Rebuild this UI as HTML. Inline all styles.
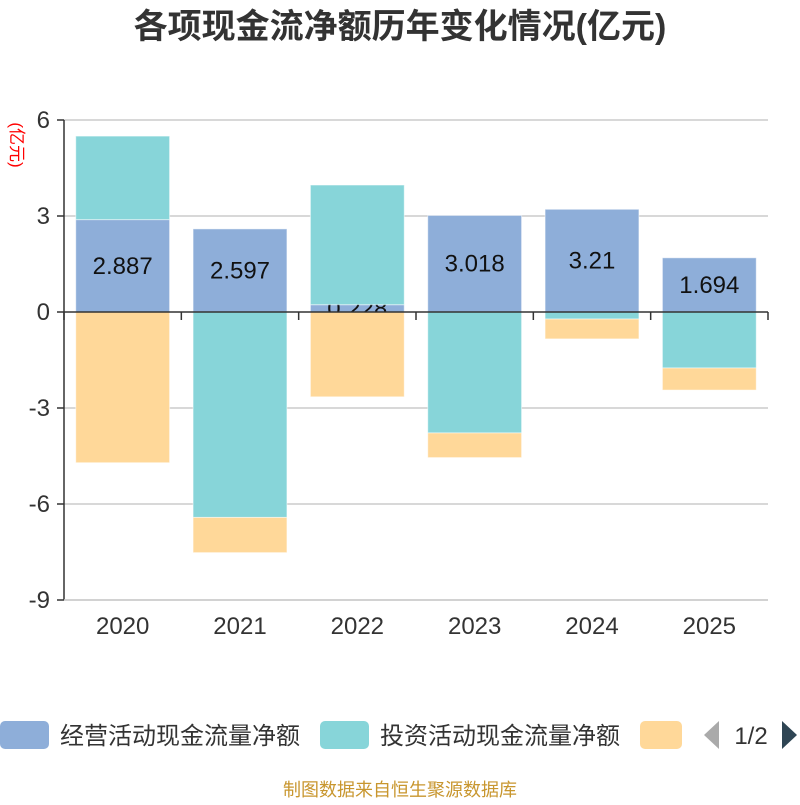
<!DOCTYPE html>
<html><head><meta charset="utf-8"><style>
body{margin:0;background:#fff;}
svg text{font-family:"Liberation Sans","Noto Sans CJK SC",sans-serif;}
</style></head><body>
<svg id="c" width="800" height="800">
<text x="400" y="38" text-anchor="middle" font-size="34" font-weight="bold" fill="#333">各项现金流净额历年变化情况(亿元)</text>
<text transform="translate(11,145) rotate(90)" text-anchor="middle" font-size="17" fill="#f00">(亿元)</text>
<g id="grid"></g><g id="bars"></g>
<g>
<rect x="0" y="721" width="49" height="28" rx="5" fill="#8eaed9"/>
<text x="60" y="744" font-size="24" fill="#333">经营活动现金流量净额</text>
<rect x="320" y="721" width="49" height="28" rx="5" fill="#87d5d9"/>
<text x="380" y="744" font-size="24" fill="#333">投资活动现金流量净额</text>
<rect x="640" y="721" width="42" height="28" rx="5" fill="#ffd899"/>
<polygon points="719,721 719,749 704,735" fill="#aaa"/>
<text x="751" y="744" text-anchor="middle" font-size="24" fill="#333">1/2</text>
<polygon points="782,721 782,749 797,735" fill="#2f4554"/>
</g>
<text x="400" y="796" text-anchor="middle" font-size="18" fill="#c8962e">制图数据来自恒生聚源数据库</text>
</svg>
<script>
const categories=["2020","2021","2022","2023","2024","2025"];
const operating=[2.887,2.597,0.228,3.018,3.21,1.694];
const investing=[2.61,-6.42,3.74,-3.78,-0.22,-1.75];
const financing=[-4.71,-1.1,-2.65,-0.77,-0.62,-0.69];
const yTicks=[6,3,0,-3,-6,-9];
const NS="http://www.w3.org/2000/svg";
const X0=64,X1=768,Y0=120,Y1=600,ymax=6,ymin=-9;
const y=v=>Y0+(ymax-v)/(ymax-ymin)*(Y1-Y0);
const bw=(X1-X0)/categories.length;
const grid=document.getElementById('grid'),bars=document.getElementById('bars');
function mk(tag,attrs,parent){const e=document.createElementNS(NS,tag);for(const k in attrs)e.setAttribute(k,attrs[k]);parent.appendChild(e);return e;}
yTicks.forEach(t=>{
  if(t!==0){const l=mk('line',{x1:X0,x2:X1,y1:y(t),y2:y(t),stroke:'#ccc','stroke-width':1.5},grid);
  
  }
  const tk=mk('line',{x1:X0-7,x2:X0,y1:y(t),y2:y(t),stroke:'#333','stroke-width':1.5},grid);
  
  
  const tx=mk('text',{x:X0-14,y:y(t)+8,'text-anchor':'end','font-size':24,fill:'#333'},grid);
  tx.textContent=t;
  
  
});
const ax=mk('line',{x1:X0,x2:X0,y1:Y0,y2:Y1,stroke:'#333','stroke-width':1.5},grid);


const bot=mk('line',{x1:X0,x2:X1,y1:Y1,y2:Y1,stroke:'#ccc','stroke-width':1.5},grid);


categories.forEach((c,i)=>{
  const tx=mk('text',{x:X0+bw*(i+0.5),y:634,'text-anchor':'middle','font-size':24,fill:'#333'},grid);
  tx.textContent=c;
  
  
});
function bar(x,a,b,col,name){
  const r=mk('rect',{x:x,y:Math.min(y(a),y(b)),width:bw*0.8,height:Math.abs(y(a)-y(b)),fill:col,stroke:'#fff','stroke-opacity':0.5},bars);
  
  
}
categories.forEach((c,i)=>{
  const x=X0+bw*i+bw*0.1;
  let pos=0,neg=0;
  const stack=(v)=>{let a,b;if(v>=0){a=pos;b=pos+v;pos=b;}else{a=neg;b=neg+v;neg=b;}return [a,b];};
  const o=stack(operating[i]);
  bar(x,o[0],o[1],'#8eaed9','bar-operating-'+c);
  const lb=mk('text',{x:x+bw*0.4,y:(y(o[0])+y(o[1]))/2+8,'text-anchor':'middle','font-size':24,fill:'#111'},bars);
  lb.textContent=operating[i];
  
  
  const v=stack(investing[i]);
  bar(x,v[0],v[1],'#87d5d9','bar-investing-'+c);
  const f=stack(financing[i]);
  bar(x,f[0],f[1],'#ffd899','bar-financing-'+c);
});
const zl=mk('line',{x1:X0,x2:X1,y1:y(0),y2:y(0),stroke:'#333','stroke-width':1.5},bars);


for(let i=0;i<=categories.length;i++){
  const t=mk('line',{x1:X0+bw*i,x2:X0+bw*i,y1:y(0),y2:y(0)+8,stroke:'#333','stroke-width':1.5},bars);
  
  
}
</script>
</body></html>
